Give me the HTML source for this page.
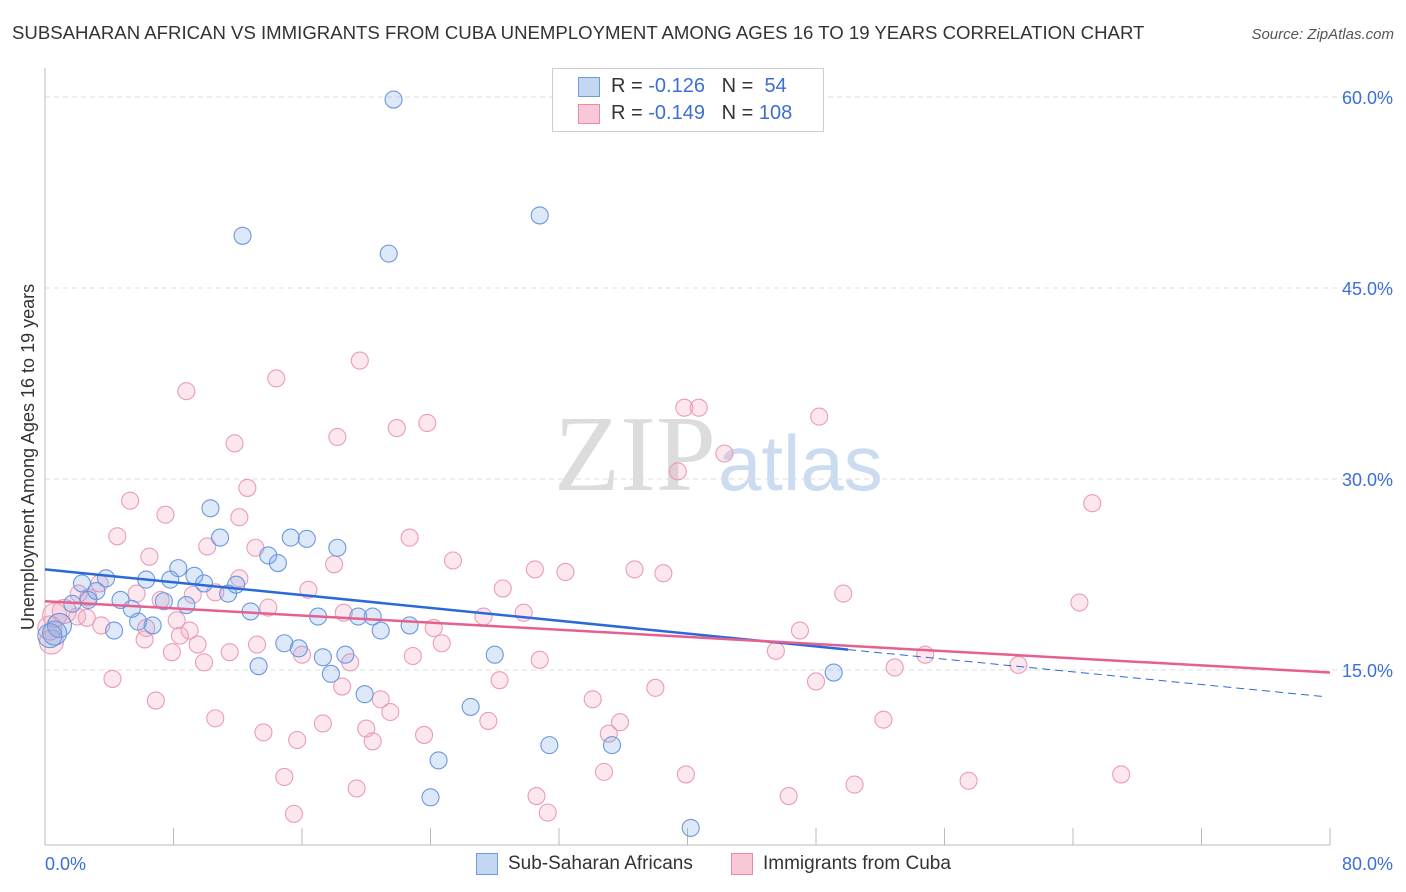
<!DOCTYPE html>
<html><head><meta charset="utf-8"><style>
body{margin:0;background:#fff;font-family:"Liberation Sans",sans-serif;}
#wrap{position:relative;width:1406px;height:892px;overflow:hidden}
</style></head><body>
<div id="wrap">
<svg id="svg" width="1406" height="892" xmlns="http://www.w3.org/2000/svg">
<text x="12" y="39" font-size="18.6" fill="#333">SUBSAHARAN AFRICAN VS IMMIGRANTS FROM CUBA UNEMPLOYMENT AMONG AGES 16 TO 19 YEARS CORRELATION CHART</text>
<text x="1394" y="39" font-size="15" fill="#555" font-style="italic" text-anchor="end">Source: ZipAtlas.com</text>
<text x="716" y="490" font-size="108" fill="#dcdcdc" text-anchor="end" font-family="Liberation Serif,serif">ZIP</text>
<text x="718" y="490" font-size="78" fill="#ccdcf0">atlas</text>
<text transform="translate(34,457) rotate(-90)" font-size="18" fill="#333" text-anchor="middle">Unemployment Among Ages 16 to 19 years</text>
<g id="grid"></g><g id="marks"></g>
</svg>
<div style="position:absolute;left:552px;top:68px;width:270px;height:62px;border:1px solid #ccc;background:#fff;font-size:20px;color:#333">
<div style="position:absolute;left:25px;top:8px;width:20px;height:18px;background:#c3d7f3;border:1px solid #6d9ae0"></div>
<div style="position:absolute;left:58px;top:6px">R = <span style="color:#3b6fd4">-0.126</span>&nbsp;&nbsp;&nbsp;N = &nbsp;<span style="color:#3b6fd4">54</span></div>
<div style="position:absolute;left:25px;top:35px;width:20px;height:18px;background:#f8c8d6;border:1px solid #e88aa8"></div>
<div style="position:absolute;left:58px;top:33px">R = <span style="color:#3b6fd4">-0.149</span>&nbsp;&nbsp;&nbsp;N = <span style="color:#3b6fd4">108</span></div>
</div>
<div style="position:absolute;left:476px;top:853px;width:20px;height:20px;background:#c3d7f3;border:1px solid #6d9ae0"></div>
<div style="position:absolute;left:508px;top:853px;font-size:19px;color:#333">Sub-Saharan Africans</div>
<div style="position:absolute;left:731px;top:853px;width:20px;height:20px;background:#f8c8d6;border:1px solid #e88aa8"></div>
<div style="position:absolute;left:763px;top:853px;font-size:19px;color:#333">Immigrants from Cuba</div>
</div>
<script>
const yTicks=[15,30,45,60];
const xLabels=["0.0%","80.0%"];
const blueX=[21.7,12.3,30.8,21.4,10.3,10.9,15.3,16.3,18.2,13.9,14.5,8.3,3.8,6.3,7.8,9.3,2.3,9.9,11.9,11.4,3.2,4.7,7.4,8.8,1.7,5.4,2.7,12.8,17.0,19.5,20.4,5.8,6.7,22.7,20.9,4.3,0.9,0.6,0.3,14.9,15.8,18.7,17.3,28.0,13.3,17.8,49.1,19.9,26.5,31.4,35.3,24.5,24.0,40.2];
const blueY=[59.8,49.1,50.7,47.7,27.7,25.4,25.4,25.3,24.6,24.0,23.4,23.0,22.2,22.1,22.1,22.4,21.8,21.8,21.7,21.0,21.2,20.5,20.4,20.1,20.2,19.8,20.5,19.6,19.2,19.2,19.2,18.8,18.5,18.5,18.1,18.1,18.5,17.9,17.7,17.1,16.7,16.2,16.0,16.2,15.3,14.7,14.8,13.1,12.1,9.1,9.1,7.9,5.0,2.6];
const pinkX=[19.6,14.4,8.8,48.2,39.8,40.7,23.8,21.9,18.2,11.8,42.3,39.4,12.6,5.3,65.2,7.5,12.1,4.5,22.7,13.1,10.1,6.5,25.4,30.5,32.4,36.7,38.5,18.0,12.1,3.4,28.5,16.4,5.7,9.2,10.6,49.7,7.2,2.1,2.7,64.4,13.9,18.6,29.8,27.3,0.6,1.2,2.0,2.6,8.2,6.3,24.2,47.0,3.5,8.4,9.0,6.2,24.7,9.5,13.2,16.0,22.9,19.0,30.8,7.9,11.5,9.9,45.5,54.8,52.9,60.6,4.2,28.3,48.0,18.5,38.0,6.9,20.9,34.1,21.5,10.6,52.2,27.6,35.8,17.3,20.0,35.1,13.6,23.6,15.7,20.4,34.8,39.9,67.0,14.9,57.5,19.4,50.4,30.6,46.3,15.5,31.3,0.3,0.4];
const pinkY=[39.3,37.9,36.9,34.9,35.6,35.6,34.4,34.0,33.3,32.8,32.0,30.6,29.3,28.3,28.1,27.2,27.0,25.5,25.4,24.6,24.7,23.9,23.6,22.9,22.7,22.9,22.6,23.3,22.2,21.8,21.4,21.3,21.0,20.9,21.1,21.0,20.5,21.0,20.7,20.3,19.9,19.5,19.5,19.2,19.3,19.6,19.2,19.1,18.9,18.3,18.3,18.1,18.5,17.7,18.1,17.4,17.1,17.0,17.0,16.2,16.1,15.6,15.8,16.4,16.4,15.6,16.5,16.2,15.2,15.4,14.3,14.2,14.1,13.7,13.6,12.6,12.7,12.7,11.7,11.2,11.1,11.0,10.9,10.8,10.4,10.0,10.1,9.9,9.5,9.4,7.0,6.8,6.8,6.6,6.3,5.7,6.0,5.1,5.1,3.7,3.8,18.3,17.2];
const blueTrend=[22.9,16.6,12.9]; // at x=0, 50, 80
const pinkTrend=[20.4,14.8];     // at x=0, 80
const NS='http://www.w3.org/2000/svg';
const X=v=>45+v/80*1285, Y=v=>861-v/15*191;
function mk(t,a,parent){const e=document.createElementNS(NS,t);for(const k in a)e.setAttribute(k,a[k]);document.getElementById(parent).appendChild(e);return e;}
yTicks.forEach(t=>{
 const l=mk('line',{x1:45,x2:1394,y1:Y(t),y2:Y(t),stroke:'#ddd','stroke-dasharray':'5,4'},'grid');
 
 
 const tx=mk('text',{x:1393,y:Y(t)+7,'font-size':18,fill:'#3b6fd4','text-anchor':'end'},'grid');tx.textContent=t.toFixed(1)+'%';
 
 
});
const ax=mk('line',{x1:45,x2:45,y1:68,y2:845,stroke:'#bbb'},'grid');


const bx=mk('line',{x1:45,x2:1330,y1:845,y2:845,stroke:'#bbb'},'grid');


for(let i=0;i<=10;i++){const tk=mk('line',{x1:X(i*8),x2:X(i*8),y1:828,y2:845,stroke:'#bbb'},'grid');
 
 }
xLabels.forEach((s,i)=>{const t=mk('text',{x:i?1393:45,y:870,'font-size':18,fill:'#3b6fd4','text-anchor':i?'end':'start'},'grid');t.textContent=s;
 
 });
function pts(xs,ys,fill,stroke,name){xs.forEach((x,i)=>{const big=x<1.5;
 const c=mk('circle',{cx:X(x),cy:Y(ys[i]),r:big?12:8.5,fill:fill,stroke:stroke,'stroke-width':1.1},'marks');
 
 });}
pts(pinkX,pinkY,'rgba(244,160,188,0.25)','#eb9cb6','point-cuba');
pts(blueX,blueY,'rgba(120,165,230,0.25)','#6b98de','point-subsaharan');
const bl=mk('line',{x1:X(0),y1:Y(blueTrend[0]),x2:X(50),y2:Y(blueTrend[1]),stroke:'#2a6ad8','stroke-width':2.5},'marks');


const bd=mk('line',{x1:X(50),y1:Y(blueTrend[1]),x2:X(79.7),y2:Y(blueTrend[2]),stroke:'#2a6ad8','stroke-width':1,'stroke-dasharray':'8,5'},'marks');


const pl=mk('line',{x1:X(0),y1:Y(pinkTrend[0]),x2:X(80),y2:Y(pinkTrend[1]),stroke:'#e5608e','stroke-width':2.5},'marks');


</script>
</body></html>
